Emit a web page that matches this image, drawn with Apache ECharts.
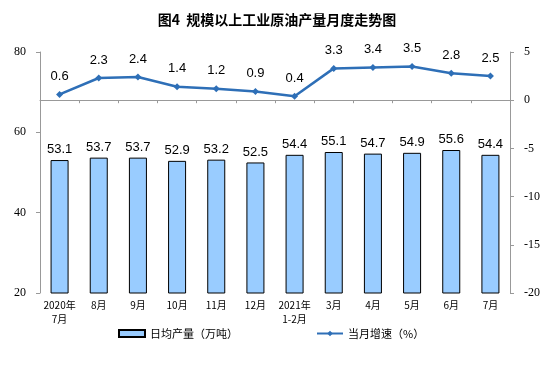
<!DOCTYPE html>
<html><head><meta charset="utf-8">
<script src="https://cdn.jsdelivr.net/npm/echarts@6/dist/echarts.min.js"></script>
<style>html,body{margin:0;padding:0;background:#fff}#c{width:554px;height:369px}</style>
</head><body><div id="c"></div>
<script>
const categories = ['2020年\n7月','8月','9月','10月','11月','12月','2021年\n1-2月','3月','4月','5月','6月','7月'];
const dailyOutput = [53.1,53.7,53.7,52.9,53.2,52.5,54.4,55.1,54.7,54.9,55.6,54.4];
const growth = [0.6,2.3,2.4,1.4,1.2,0.9,0.4,3.3,3.4,3.5,2.8,2.5];
const leftTicks = [20,40,60,80];
const rightTicks = [-20,-15,-10,-5,0,5];

const chart = echarts.init(document.getElementById('c'));
chart.setOption({
  animation:false,
  title:{text:'图4  规模以上工业原油产量月度走势图',left:'center',top:8,
    textStyle:{fontFamily:'Noto Sans CJK SC',fontSize:14,fontWeight:'bold',color:'#000'}},
  grid:{left:40,right:44,top:52,bottom:76},
  legend:{bottom:25,left:113,itemGap:78,itemWidth:26,itemHeight:7,
    textStyle:{fontFamily:'Noto Sans CJK SC',fontSize:11,color:'#000'},
    data:[{name:'日均产量（万吨）',icon:'rect'},{name:'当月增速（%）'}]},
  xAxis:{type:'category',data:categories,
    axisLine:{lineStyle:{color:'#999'}},
    axisTick:{show:true,length:3,lineStyle:{color:'#999'}},
    axisLabel:{interval:0,fontFamily:'Noto Sans CJK SC',fontSize:10,color:'#000',lineHeight:14,margin:5}},
  yAxis:[
    {type:'value',min:leftTicks[0],max:leftTicks[leftTicks.length-1],interval:20,position:'left',
      axisLine:{show:true,lineStyle:{color:'#999'}},
      axisTick:{show:true,length:4,lineStyle:{color:'#999'}},
      splitLine:{show:false},
      axisLabel:{fontFamily:'Liberation Serif',fontSize:12,color:'#000',margin:14}},
    {type:'value',min:rightTicks[0],max:rightTicks[rightTicks.length-1],interval:5,position:'right',
      axisLine:{show:true,lineStyle:{color:'#999'}},
      axisTick:{show:true,length:4,lineStyle:{color:'#999'}},
      splitLine:{show:false},
      axisLabel:{fontFamily:'Liberation Serif',fontSize:12,color:'#000',margin:14}}
  ],
  series:[
    {name:'日均产量（万吨）',type:'bar',data:dailyOutput,barWidth:'46%',yAxisIndex:0,
      itemStyle:{color:'#99CCFF',borderColor:'#000',borderWidth:1},
      label:{show:true,position:'top',distance:4,fontFamily:'Liberation Sans',fontSize:13,color:'#000'}},
    {name:'当月增速（%）',type:'line',data:growth,yAxisIndex:1,
      symbol:'diamond',symbolSize:7,
      lineStyle:{color:'#2E6FB7',width:2.5},itemStyle:{color:'#2E6FB7'},
      label:{show:true,position:'top',distance:8,fontFamily:'Liberation Sans',fontSize:13,color:'#000'}}
  ]
});
</script></body></html>
